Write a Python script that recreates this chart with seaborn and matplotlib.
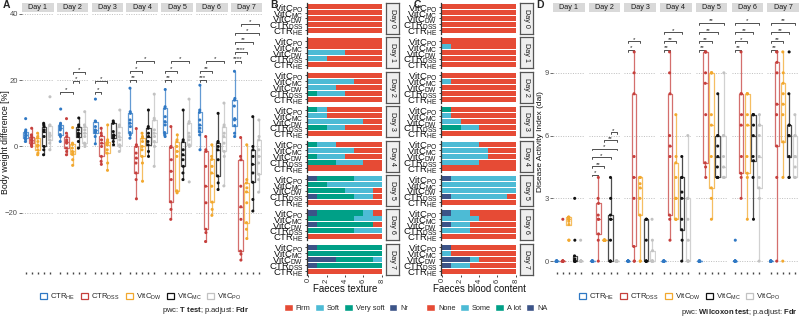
import numpy as np
import pandas as pd
import matplotlib as mpl
import matplotlib.pyplot as plt
import seaborn as sns
from matplotlib.patches import Patch

# ---------------- data ----------------
groups = ['CTR_HE', 'CTR_DSS', 'VitC_DW', 'VitC_MC', 'VitC_PO']
group_labels = [r'CTR$_\mathrm{HE}$', r'CTR$_\mathrm{DSS}$', r'VitC$_\mathrm{DW}$',
                r'VitC$_\mathrm{MC}$', r'VitC$_\mathrm{PO}$']
group_colors = ['#2F78C4', '#C63F3C', '#F2A82E', '#111111', '#C2C2C2']

# body weight difference [%], one list per day (Day 1 .. Day 7)
bw_ctr_he = [[8.4, 5.0, 4.5, 4.0, 3.6, 3.2, 2.7, 2.2, 1.5],
             [11.3, 7.0, 6.6, 6.0, 5.5, 5.0, 3.6, 3.0, 1.5],
             [14.3, 7.7, 7.5, 6.0, 5.0, 4.5, 4.2, 3.0, 0.8],
             [17.6, 10.5, 10.0, 8.0, 7.0, 6.0, 4.2, 3.5, 2.5],
             [17.2, 12.0, 11.5, 9.0, 7.5, 6.5, 4.2, 3.5, 3.0],
             [18.5, 11.0, 10.3, 8.0, 6.5, 5.5, 4.5, 3.5, -1.0],
             [22.7, 14.5, 14.0, 12.2, 8.4, 8.0, 6.3, 4.0, 3.0]]
bw_ctr_dss = [[5.5, 3.5, 3.0, 2.5, 2.0, 1.5, 1.2, 0.5, 0.0],
              [8.4, 4.0, 3.0, 2.0, 1.5, 1.0, -0.5, -1.5, -2.5],
              [5.5, 4.0, 3.3, 2.0, 1.0, 0.0, -3.0, -4.5, -5.4],
              [5.4, 0.5, 0.0, -2.0, -3.5, -5.0, -8.0, -10.0, -15.8],
              [6.0, 0.0, -0.3, -4.0, -7.5, -10.0, -16.7, -19.0, -22.0],
              [3.0, -1.0, -1.5, -6.0, -12.0, -17.0, -25.0, -26.0, -28.7],
              [2.7, -3.0, -4.0, -12.0, -18.2, -22.0, -31.6, -32.5, -34.3]]
bw_vitc_dw = [[4.0, 3.0, 2.5, 1.5, 0.5, 0.0, -1.0, -2.0, -2.5],
              [5.7, 1.0, 0.6, -0.5, -1.5, -2.0, -2.4, -4.0, -5.7],
              [6.5, 2.0, 1.5, 1.0, 0.5, -1.0, -2.0, -5.0, -7.2],
              [4.0, 3.0, 2.5, 1.5, 0.0, -1.0, -3.0, -5.0, -10.5],
              [3.5, 2.0, 1.5, 0.0, -1.5, -3.0, -13.4, -13.6, -14.0],
              [0.5, -3.0, -3.9, -6.0, -8.0, -12.0, -16.8, -19.0, -20.8],
              [0.5, -10.0, -11.0, -12.5, -13.7, -17.0, -23.0, -25.0, -27.8]]
bw_vitc_mc = [[7.0, 6.5, 6.0, 5.0, 4.5, 3.0, 0.0, -1.0, -2.5],
              [8.6, 6.5, 6.0, 5.0, 4.0, 3.5, 3.0, 1.5, -0.5],
              [7.7, 7.2, 7.0, 4.5, 3.5, 3.0, 2.5, 1.5, 0.5],
              [11.0, 6.0, 5.5, 4.0, 3.0, 1.5, 0.5, -1.5, -3.0],
              [11.0, 2.0, 1.5, -1.0, -2.5, -4.0, -6.0, -8.0, -10.0],
              [10.0, 1.5, 1.2, 0.0, -1.0, -4.0, -8.9, -11.0, -13.0],
              [9.0, 0.0, -1.0, -3.0, -5.4, -8.0, -10.8, -16.0, -19.5]]
bw_vitc_po = [[15.0, 6.5, 6.3, 4.0, 3.5, 3.0, 2.0, 1.0, -1.0],
              [10.5, 6.5, 6.0, 5.0, 4.0, 3.0, 1.0, 0.5, 0.0],
              [11.0, 6.5, 6.0, 4.0, 3.0, 2.0, 0.5, 0.0, -1.5],
              [15.8, 8.5, 8.0, 5.0, 4.0, 3.0, 1.5, 0.0, -6.0],
              [14.3, 7.5, 7.0, 4.0, 3.0, 2.0, 0.5, 0.0, -10.7],
              [13.1, 6.5, 6.0, 4.0, 3.0, 1.0, -1.5, -3.0, -11.9],
              [8.0, 3.0, 2.0, -1.0, -3.0, -5.0, -8.4, -10.0, -13.8]]

# disease activity index, one list per day (Day 1 .. Day 7)
dai_ctr_he = [[0] * 9, [0] * 9, [0] * 9, [0] * 9, [0] * 9,
              [1, 0, 0, 0, 0, 0, 0, 0, 0], [0] * 9]
dai_ctr_dss = [[2, 0, 0, 0, 0, 0, 0, 0, 0],
               [4, 3, 2.76, 2.2, 2, 2, 1.3, 1, 0],
               [10, 9, 8, 5, 4, 3, 0.7, 0, 0],
               [10, 9, 8, 6, 5.5, 5, 2.2, 2, 1],
               [10, 10, 10, 9, 8.5, 7, 4.7, 4.5, 4],
               [10, 8, 8, 7, 6.5, 5, 4.2, 4, 3],
               [10, 10, 9.5, 9, 7.5, 7, 5.5, 4, 0]]
dai_vitc_dw = [[2.1, 2.1, 2.1, 2.0, 2.0, 1.9, 1.75, 1, 1],
               [1] * 9,
               [4, 4, 4, 3.7, 3.5, 3, 2.2, 0, 0],
               [7, 5, 4.7, 4, 3, 3, 2, 2, 2],
               [9, 9, 9, 7, 6.5, 5, 3.5, 3, 2],
               [8, 8, 8, 7, 6.5, 5, 4.2, 4, 2],
               [10, 9, 8.5, 8, 7.5, 7, 5.7, 4, 0]]
dai_vitc_mc = [[3, 1, 0.25, 0.1, 0, 0, 0, 0, 0],
               [4, 3, 2.2, 2, 2, 1, 0, 0, 0],
               [2, 2, 2, 1, 0, 0, 0, 0, 0],
               [5, 4, 4, 3.3, 3, 2, 1.5, 1, 0],
               [8, 6, 6, 5.5, 5, 4.5, 4, 4, 4],
               [7, 7, 7, 6.5, 6, 5, 4.8, 4, 2],
               [10, 8, 6.5, 6.5, 6, 6, 5, 4, 4]]
dai_vitc_po = [[1, 0, 0, 0, 0, 0, 0, 0, 0],
               [0] * 9,
               [2, 1, 0.5, 0, 0, 0, 0, 0, 0],
               [6, 3, 3, 2, 1, 0, 0, 0, 0],
               [9, 6, 6, 5, 4.5, 4, 4, 4, 4],
               [7, 6.5, 6.5, 6, 5, 4, 3.5, 3, 0],
               [7, 6, 6, 5, 5, 4.5, 4, 4, 4]]

# significance brackets: (day index, group a, group b, y, label)
bw_brackets = [(1, 0, 2, 16.5, '*'), (1, 2, 3, 19.8, '*'), (1, 2, 4, 22.6, '*'),
               (2, 0, 1, 16.5, '*'), (2, 0, 2, 19.8, '*'),
               (3, 0, 1, 20.1, '**'), (3, 0, 2, 22.9, '*'), (3, 1, 4, 25.9, '*'),
               (4, 0, 1, 20.1, '**'), (4, 0, 2, 22.9, '*'), (4, 1, 4, 25.9, '*'),
               (5, 0, 1, 20.1, '***'), (5, 0, 2, 22.9, '**'), (5, 1, 4, 25.9, '*'),
               (6, 0, 1, 25.9, '****'), (6, 0, 2, 28.6, '****'), (6, 0, 3, 31.6, '**'),
               (6, 0, 4, 34.3, '*'), (6, 1, 4, 37.0, '*')]
dai_brackets = [(1, 0, 1, 4.14, '*'), (1, 0, 2, 4.54, '**'), (1, 0, 3, 4.97, '*'),
                (1, 0, 4, 5.38, '*'), (1, 2, 4, 5.78, '**'), (1, 3, 4, 6.16, '*'),
                (2, 0, 1, 10.1, '*'), (2, 0, 2, 10.5, '*'),
                (3, 0, 1, 10.1, '**'), (3, 0, 2, 10.5, '**'), (3, 0, 3, 10.95, '*'),
                (4, 0, 1, 10.1, '**'), (4, 0, 2, 10.5, '**'), (4, 0, 3, 10.95, '**'), (4, 0, 4, 11.4, '**'),
                (5, 0, 1, 10.1, '**'), (5, 0, 2, 10.5, '*'), (5, 0, 3, 10.95, '**'), (5, 0, 4, 11.4, '*'),
                (6, 0, 1, 10.1, '**'), (6, 0, 2, 10.5, '**'), (6, 0, 3, 10.95, '**'), (6, 0, 4, 11.4, '**')]

# faeces texture counts, rows = Day 0 .. Day 7, columns = groups
tex_firm = [[8, 8, 8, 8, 8], [8, 6, 4, 8, 8], [8, 4, 5, 3, 8], [8, 4, 2, 6, 6],
            [8, 2, 4, 3, 5], [8, 1, 1, 0, 0], [8, 0, 1, 0, 1], [8, 0, 0, 0, 0]]
tex_soft = [[0, 0, 0, 0, 0], [0, 2, 4, 0, 0], [0, 3, 3, 5, 0], [0, 2, 6, 2, 1],
            [0, 3, 3, 5, 2], [0, 2, 3, 6, 3], [0, 3, 0, 3, 1], [0, 0, 1, 0, 0]]
tex_vsoft = [[0, 0, 0, 0, 0], [0, 0, 0, 0, 0], [0, 1, 0, 0, 0], [0, 2, 0, 0, 1],
             [0, 3, 1, 0, 1], [0, 4, 4, 2, 4], [0, 5, 6, 5, 5], [0, 7, 4, 8, 7]]
tex_nr = [[0, 0, 0, 0, 0], [0, 0, 0, 0, 0], [0, 0, 0, 0, 0], [0, 0, 0, 0, 0],
          [0, 0, 0, 0, 0], [0, 1, 0, 0, 1], [0, 0, 1, 0, 1], [0, 1, 3, 0, 1]]

# faeces blood content counts
blood_none = [[8, 8, 8, 8, 8], [8, 8, 8, 7, 8], [8, 8, 8, 7, 8], [8, 4, 6, 7, 7],
              [8, 4, 3, 3, 4], [8, 1, 0, 0, 0], [8, 5, 5, 4, 5], [8, 5, 4, 7, 7]]
blood_some = [[0, 0, 0, 0, 0], [0, 0, 0, 1, 0], [0, 0, 0, 1, 0], [0, 2, 2, 1, 0],
              [0, 4, 5, 5, 4], [0, 6, 8, 8, 7], [0, 3, 2, 4, 2], [0, 2, 1, 1, 0]]
blood_alot = [[0, 0, 0, 0, 0], [0, 0, 0, 0, 0], [0, 0, 0, 0, 0], [0, 2, 0, 0, 1],
              [0, 0, 0, 0, 0], [0, 0, 0, 0, 0], [0, 0, 0, 0, 0], [0, 0, 0, 0, 0]]
blood_na = [[0, 0, 0, 0, 0], [0, 0, 0, 0, 0], [0, 0, 0, 0, 0], [0, 0, 0, 0, 0],
            [0, 0, 0, 0, 0], [0, 1, 0, 0, 1], [0, 0, 1, 0, 1], [0, 1, 3, 0, 1]]

npg = ['#3C5488', '#00A087', '#4DBBD5', '#E64B35']  # Nr/NA, very soft/a lot, soft/some, firm/none

# ---------------- style ----------------
sns.set_theme(style='white')
plt.rcParams['font.family'] = ['Liberation Sans', 'DejaVu Sans']
plt.rcParams['mathtext.fontset'] = 'custom'
plt.rcParams['mathtext.rm'] = 'Liberation Sans'
plt.rcParams['mathtext.bf'] = 'Liberation Sans:bold'
plt.rcParams['mathtext.it'] = 'Liberation Sans:italic'
np.random.seed(3)

W, H = 800, 316
fig = plt.figure(figsize=(8, 3.16), dpi=100)
fig.patch.set_facecolor('white')


def add_ax(x0, y0, x1, y1):
    return fig.add_axes([x0 / W, 1 - y1 / H, (x1 - x0) / W, (y1 - y0) / H])


def long_df(series):
    rows = []
    for g, per_day in zip(groups, series):
        for d, vals in enumerate(per_day):
            for v in vals:
                rows.append((d, g, v))
    return pd.DataFrame(rows, columns=['day', 'group', 'value'])


def light(c, a=0.75):
    rgb = np.array(mpl.colors.to_rgb(c))
    return tuple(rgb * a + (1 - a))


box_pal = {g: light(c) for g, c in zip(groups, group_colors)}
pt_pal = dict(zip(groups, group_colors))


def box_facets(df, x_start, step, ylim, yticks, brackets, bh):
    for d in range(7):
        x0 = x_start + d * step
        ax = add_ax(x0, 13, x0 + 31.5, 272)
        sub = df[df.day == d]
        for y in yticks:
            ax.axhline(y, color='#BDBDBD', lw=0.7, ls=(0, (1, 1.5)), zorder=0)
        sns.boxplot(data=sub, x='group', y='value', hue='group', order=groups, hue_order=groups,
                    palette=box_pal, fill=False, width=0.75, linewidth=0.9, showfliers=False,
                    showcaps=False, dodge=False, legend=False, ax=ax)
        sns.stripplot(data=sub, x='group', y='value', hue='group', order=groups, hue_order=groups,
                      palette=pt_pal, size=2.2, jitter=0.05, linewidth=0, dodge=False,
                      legend=False, ax=ax, zorder=3)
        for (bd, a, b, y, lab) in brackets:
            if bd != d:
                continue
            ax.plot([a, a, b, b], [y - bh, y, y, y - bh], color='#333333', lw=0.6, clip_on=False)
            ax.text((a + b) / 2, y - bh * 0.3, lab, ha='center', va='bottom', fontsize=4.5,
                    color='#222222')
        ax.set_xlim(-0.6, 4.6)
        ax.set_ylim(*ylim)
        ax.set_xlabel('')
        ax.set_ylabel('')
        for s in ax.spines.values():
            s.set_visible(False)
        ax.set_xticks(range(5))
        ax.set_xticklabels([''] * 5)
        ax.tick_params(axis='x', length=1.6, width=1.0, color='#444444', bottom=True, pad=0)
        ax.set_yticks(yticks)
        if d == 0:
            ax.tick_params(axis='y', length=2, width=0.6, color='#555555', labelsize=5.5,
                           labelcolor='#4D4D4D', pad=1, left=True)
        else:
            ax.tick_params(axis='y', length=0, labelleft=False)
        ax.set_facecolor('none')
        sax = add_ax(x0, 3, x0 + 31.5, 12)
        sax.set_facecolor('#D9D9D9')
        sax.set_xticks([])
        sax.set_yticks([])
        for s in sax.spines.values():
            s.set_visible(False)
        sax.text(0.5, 0.45, f'Day {d + 1}', ha='center', va='center', fontsize=5.2,
                 color='#1A1A1A', transform=sax.transAxes)


def bar_facets(x0, x1, layers, xlabel, strip_x):
    for d in range(8):
        y0 = 3 + d * 34.4
        ax = add_ax(x0, y0, x1, y0 + 31)
        left = np.zeros(5)
        for vals, c in zip(layers, npg):
            v = np.array(vals[d], dtype=float)
            ax.barh(np.arange(5), v, left=left, color=c, height=0.85, linewidth=0)
            left += v
        ax.set_xlim(-0.12, 8.12)
        ax.set_ylim(-0.6, 4.6)
        for k, s in ax.spines.items():
            s.set_visible(k == 'left')
        ax.spines['left'].set_color('#333333')
        ax.spines['left'].set_linewidth(0.9)
        ax.set_yticks(range(5))
        ax.set_yticklabels(group_labels, fontsize=6.8, color='#111111')
        ax.tick_params(axis='y', length=1.5, width=0.6, pad=1, left=True)
        if d == 7:
            ax.set_xticks([0, 2, 4, 6, 8])
            ax.set_xticklabels(['0', '2', '4', '6', '8'], rotation=90, fontsize=5.5,
                               color='#333333')
            ax.tick_params(axis='x', length=1.5, width=0.6, pad=1, bottom=True)
            ax.set_xlabel(xlabel, fontsize=7, labelpad=1, color='#111111')
        else:
            ax.set_xticks([])
        sax = add_ax(strip_x, y0, strip_x + 12.5, y0 + 31)
        sax.set_facecolor('#EFEFEF')
        sax.set_xticks([])
        sax.set_yticks([])
        for s in sax.spines.values():
            s.set_color('#555555')
            s.set_linewidth(0.9)
        sax.text(0.5, 0.5, f'Day {d}', ha='center', va='center', rotation=270, fontsize=5.2,
                 color='#1A1A1A', transform=sax.transAxes)


# ---------------- panel A ----------------
bw_df = long_df([bw_ctr_he, bw_ctr_dss, bw_vitc_dw, bw_vitc_mc, bw_vitc_po])
box_facets(bw_df, 22, 34.83, (-37.9, 40.3), [-20, 0, 20, 40], bw_brackets, 0.6)
fig.text(6 / W, 1 - 142 / H, 'Body weight difference [%]', rotation=90, ha='center',
         va='center', fontsize=6.3, color='#111111')

# ---------------- panel D ----------------
dai_df = long_df([dai_ctr_he, dai_ctr_dss, dai_vitc_dw, dai_vitc_mc, dai_vitc_po])
box_facets(dai_df, 553, 35.7, (-0.52, 11.86), [0, 3, 6, 9], dai_brackets, 0.09)
fig.text(540 / W, 1 - 142 / H, 'Disease Activity Index (dai)', rotation=90, ha='center',
         va='center', fontsize=6.0, color='#111111')

# ---------------- panels B and C ----------------
bar_facets(307, 383, [tex_nr, tex_vsoft, tex_soft, tex_firm], 'Faeces texture', 386)
bar_facets(441, 517, [blood_na, blood_alot, blood_some, blood_none], 'Faeces blood content', 520)

# ---------------- legends and labels ----------------
box_handles = [Patch(facecolor='white', edgecolor=c, linewidth=0.9) for c in group_colors]
for cx in (141, 680):
    fig.legend(box_handles, group_labels, loc='center', bbox_to_anchor=(cx / W, 1 - 297 / H),
               ncol=5, frameon=False, fontsize=5.6, handlelength=0.9, handleheight=0.9,
               columnspacing=0.7, handletextpad=0.4, borderpad=0)

tex_handles = [Patch(facecolor=c) for c in reversed(npg)]
fig.legend(tex_handles, ['Firm', 'Soft', 'Very soft', 'Nr'], loc='center',
           bbox_to_anchor=(346 / W, 1 - 308 / H), ncol=4, frameon=False, fontsize=5.3,
           handlelength=1.2, handleheight=1.2, columnspacing=0.6, handletextpad=0.4, borderpad=0)
fig.legend(tex_handles, ['None', 'Some', 'A lot', 'NA'], loc='center',
           bbox_to_anchor=(487 / W, 1 - 308 / H), ncol=4, frameon=False, fontsize=5.3,
           handlelength=1.2, handleheight=1.2, columnspacing=0.6, handletextpad=0.4, borderpad=0)

fig.text(250 / W, 1 - 311 / H, r'pwc: $\mathbf{T\ test}$; p.adjust: $\mathbf{Fdr}$',
         ha='right', va='center', fontsize=5.5, color='#222222')
fig.text(798 / W, 1 - 312 / H, r'pwc: $\mathbf{Wilcoxon\ test}$; p.adjust: $\mathbf{Fdr}$',
         ha='right', va='center', fontsize=5.5, color='#222222')

for lab, x in [('A', 3), ('B', 270), ('C', 414), ('D', 536)]:
    fig.text(x / W, 1 - 5 / H, lab, fontsize=7.5, fontweight='bold', ha='left', va='center')

fig.savefig('out.png', dpi=100, facecolor='white')
